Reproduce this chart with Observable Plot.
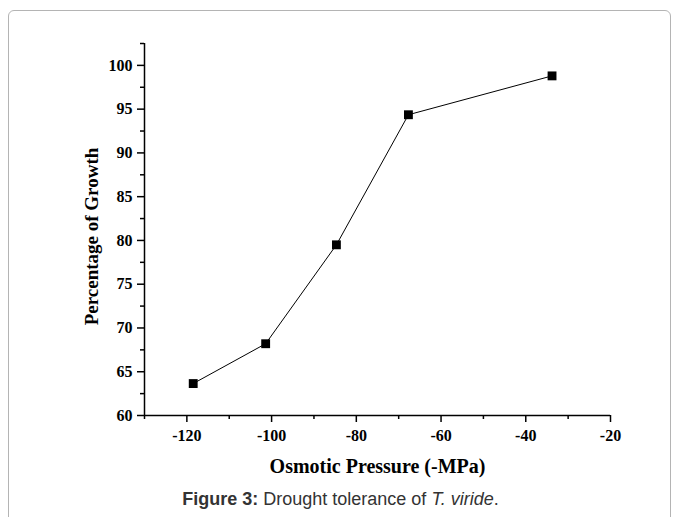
<!DOCTYPE html>
<html>
<head>
<meta charset="utf-8">
<script src="https://cdn.jsdelivr.net/npm/d3@7"></script>
<script src="https://cdn.jsdelivr.net/npm/@observablehq/plot@0.6"></script>
<style>
  html, body { margin: 0; padding: 0; background: #fff; width: 681px; height: 517px; overflow: hidden; }
  #frame { position: absolute; left: 8px; top: 10px; width: 663px; height: 540px; border: 1px solid #b4b4b4; border-radius: 6px; box-sizing: border-box; }
  #chart { position: absolute; left: 0; top: 0; }
  #caption { position: absolute; left: 0; width: 681px; top: 489px; text-align: center; font-family: "Liberation Sans", Arial, sans-serif; font-size: 18px; color: #333; }
</style>
</head>
<body>
<div id="frame"></div>
<div id="chart"></div>
<div id="caption"><b>Figure 3:</b> Drought tolerance of <i>T. viride</i>.</div>
<script>
const pressure = [-118.5, -101.4, -84.7, -67.7, -33.8];
const growth = [63.65, 68.2, 79.5, 94.36, 98.8];
const xDomain = [-130, -20];
const yDomain = [60, 102.5];
const xMajor = [-120, -100, -80, -60, -40, -20];
const xMinor = [-130, -110, -90, -70, -50, -30];
const yMajor = [60, 65, 70, 75, 80, 85, 90, 95, 100];
const yMinor = [62.5, 67.5, 72.5, 77.5, 82.5, 87.5, 92.5, 97.5, 102.5];
const xTitle = "Osmotic Pressure (-MPa)";
const yTitle = "Percentage of Growth";

const data = pressure.map((p, i) => ({p, g: growth[i]}));
const font = "'Liberation Serif', 'Times New Roman', serif";

const plot = Plot.plot({
  width: 681,
  height: 480,
  marginLeft: 144,
  marginRight: 71,
  marginTop: 43,
  marginBottom: 65,
  style: { fontFamily: font, background: "transparent", overflow: "visible" },
  x: { domain: xDomain },
  y: { domain: yDomain },
  marks: [
    Plot.axisX({ ticks: xMinor, tickSize: 4, tickFormat: () => "", strokeWidth: 1.5, label: null }),
    Plot.axisX({ ticks: xMajor, tickSize: 7, tickPadding: 7, fontSize: 16, fontWeight: "bold", strokeWidth: 1.5, tickFormat: d => String(d), label: null, fill: "#000" }),
    Plot.axisY({ ticks: yMinor, tickSize: 4, tickFormat: () => "", strokeWidth: 1.5, label: null }),
    Plot.axisY({ ticks: yMajor, tickSize: 7, tickPadding: 5, fontSize: 16, fontWeight: "bold", strokeWidth: 1.5, tickFormat: d => String(d), label: null, fill: "#000" }),
    Plot.ruleY([yDomain[0]], { x1: xDomain[0], x2: xDomain[1], stroke: "#000", strokeWidth: 1.5 }),
    Plot.ruleX([xDomain[0]], { y1: yDomain[0], y2: yDomain[1], stroke: "#000", strokeWidth: 1.5 }),
    Plot.line(data, { x: "p", y: "g", stroke: "#000", strokeWidth: 1 }),
    Plot.dot(data, { x: "p", y: "g", symbol: "square", r: 5, fill: "#000", stroke: "none" }),
    Plot.text([xTitle], { frameAnchor: "bottom", textAnchor: "middle", lineAnchor: "middle", dy: 51, fontSize: 20, fontWeight: "bold", fill: "#000" }),
    Plot.text([yTitle], { frameAnchor: "left", textAnchor: "middle", lineAnchor: "middle", dx: -53, dy: 7, rotate: -90, fontSize: 19, fontWeight: "bold", fill: "#000" })
  ]
});
document.getElementById("chart").appendChild(plot);
</script>
</body>
</html>
